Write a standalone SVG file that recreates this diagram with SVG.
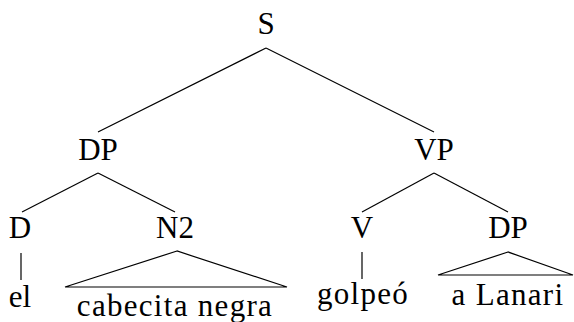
<svg xmlns="http://www.w3.org/2000/svg" width="574" height="322" viewBox="0 0 574 322">
<style>
text{font-family:"Liberation Serif","Times New Roman",serif;font-size:31px;fill:#000;text-anchor:middle}
.w{letter-spacing:1.3px}
.e{stroke:#000;stroke-width:1.2;fill:none;stroke-linejoin:miter}
</style>
<rect width="574" height="322" fill="#fff"/>
<g id="connectors">
<line class="e" x1="266" y1="48" x2="98" y2="132"/>
<line class="e" x1="266" y1="48" x2="434" y2="132"/>
<line class="e" x1="98" y1="173" x2="22" y2="212"/>
<line class="e" x1="98" y1="173" x2="175" y2="212"/>
<line class="e" x1="434" y1="173" x2="362" y2="212"/>
<line class="e" x1="434" y1="173" x2="508" y2="212"/>
<line class="e" x1="21" y1="253" x2="21" y2="280"/>
<line class="e" x1="362" y1="252" x2="362" y2="279"/>
<polygon class="e" points="177,251 65,287 287,287"/>
<polygon class="e" points="508,252 438,275 573,275"/>
</g>
<g id="S"><text x="266" y="34">S</text></g>
<g id="DP1"><text x="98" y="160">DP</text></g>
<g id="VP"><text x="434" y="160">VP</text></g>
<g id="D"><text x="20" y="238">D</text></g>
<g id="N2"><text x="175" y="238">N2</text></g>
<g id="V"><text x="362" y="238">V</text></g>
<g id="DP2"><text x="508" y="238">DP</text></g>
<g id="el"><text x="20" y="307">el</text></g>
<g id="cabecita"><text class="w" x="175" y="316">cabecita negra</text></g>
<g id="golpeo"><text class="w" x="363" y="304">golpeó</text></g>
<g id="lanari"><text class="w" x="508" y="305">a Lanari</text></g>
</svg>
